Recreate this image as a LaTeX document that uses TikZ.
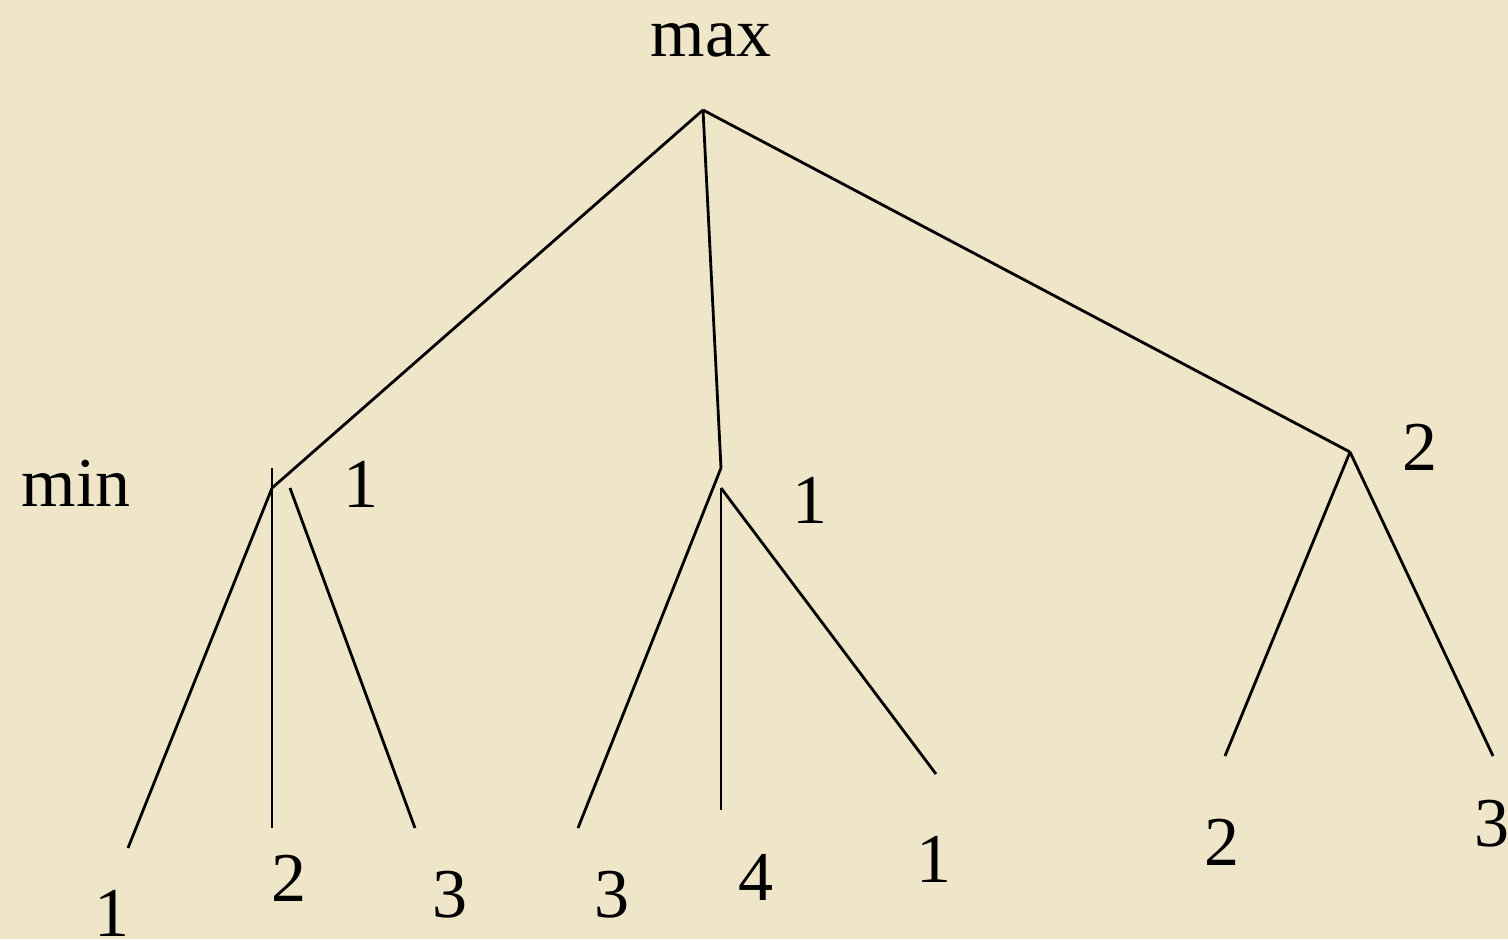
\documentclass[tikz,border=0pt]{standalone}
\usepackage{fontspec}
\setmainfont{Liberation Serif}
\definecolor{bg}{RGB}{239,229,200}
\begin{document}
\begin{tikzpicture}[x=0.5pt,y=-0.5pt,
  edge/.style={line width=1.4pt,black},
  lbl/.style={font=\fontsize{35}{40}\selectfont,anchor=base,inner sep=0pt}]
\fill[bg] (0,0) rectangle (1508,939);
\useasboundingbox (0,0) rectangle (1508,939);
% points
\coordinate (root) at (703,110);
\coordinate (A) at (272,488);
\coordinate (Atop) at (272,468);
\coordinate (A1) at (128,848);
\coordinate (A2) at (272,828);
\coordinate (A3s) at (290,488);
\coordinate (A3) at (415,828);
\coordinate (B) at (721,468);
\coordinate (Bs) at (721,488);
\coordinate (B1) at (578,828);
\coordinate (B2) at (721,810);
\coordinate (B3) at (936,774);
\coordinate (C) at (1350,452);
\coordinate (C1) at (1225,756);
\coordinate (C2) at (1493,756);
% edges
\draw[edge] (root) -- (A);
\draw[edge] (root) -- (B);
\draw[edge] (root) -- (C);
\draw[edge] (Atop) -- (A2);
\draw[edge] (A) -- (A1);
\draw[edge] (A3s) -- (A3);
\draw[edge] (B) -- (B1);
\draw[edge] (Bs) -- (B2);
\draw[edge] (Bs) -- (B3);
\draw[edge] (C) -- (C1);
\draw[edge] (C) -- (C2);
% labels
\node[lbl] (tmax) at (711,56) {max};
\node[lbl] (tmin) at (76,506) {min};
\node[lbl] (vA) at (361,507) {1};
\node[lbl] (vB) at (810,523) {1};
\node[lbl] (vC) at (1420,470) {2};
\node[lbl] (l1) at (112,936) {1};
\node[lbl] (l2) at (289,901) {2};
\node[lbl] (l3) at (450,917) {3};
\node[lbl] (l4) at (612,917) {3};
\node[lbl] (l5) at (756,900) {4};
\node[lbl] (l6) at (934,882) {1};
\node[lbl] (l7) at (1222,865) {2};
\node[lbl] (l8) at (1492,846) {3};
\end{tikzpicture}
\end{document}
